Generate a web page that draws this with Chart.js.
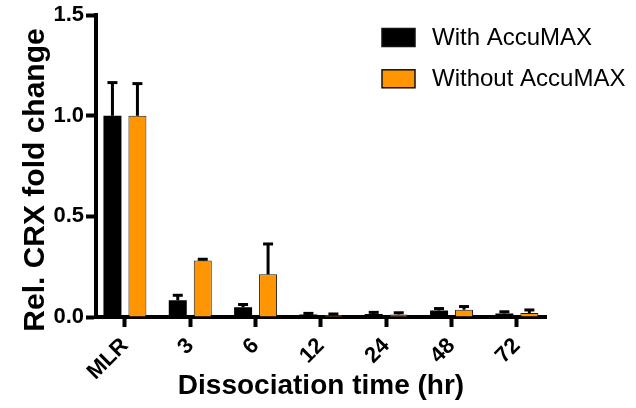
<!DOCTYPE html>
<html>
<head>
<meta charset="utf-8">
<script src="https://cdn.jsdelivr.net/npm/chart.js@4/dist/chart.umd.min.js"></script>
<style>
  html, body { margin: 0; padding: 0; background: #fff; }
  #c { display: block; }
</style>
</head>
<body>
<canvas id="c" width="636" height="408"></canvas>
<script>
// ---- data ----
const categories = ["MLR", "3", "6", "12", "24", "48", "72"];
const seriesNames = ["With AccuMAX", "Without AccuMAX"];
const withAccuMAX = [1.0, 0.083, 0.048, 0.012, 0.015, 0.032, 0.018];
const withAccuMAXErr = [0.165, 0.025, 0.014, 0.006, 0.008, 0.010, 0.008];
const withoutAccuMAX = [1.0, 0.281, 0.212, 0.010, 0.013, 0.036, 0.020];
const withoutAccuMAXErr = [0.160, 0.006, 0.151, 0.005, 0.008, 0.016, 0.015];
const yTicks = [0, 0.5, 1.0, 1.5];
const xTitle = "Dissociation time (hr)";
const yTitle = "Rel. CRX fold change";

const FONT = '"Liberation Sans", Arial, Helvetica, sans-serif';
const BLACK = '#000000';
const ORANGE = '#FF9500';

const errors = [withAccuMAXErr, withoutAccuMAXErr];

const errorBarPlugin = {
  id: 'errorBars',
  afterDatasetsDraw(chart) {
    const ctx = chart.ctx;
    const yScale = chart.scales.y;
    chart.data.datasets.forEach((ds, di) => {
      const meta = chart.getDatasetMeta(di);
      meta.data.forEach((el, i) => {
        const v = ds.data[i].y;
        const e = errors[di][i];
        const yTop = yScale.getPixelForValue(v + e);
        const yBar = el.y;
        ctx.save();
        ctx.strokeStyle = '#000';
        ctx.lineWidth = 3;
        ctx.lineCap = 'butt';
        ctx.beginPath();
        ctx.moveTo(el.x, yBar);
        ctx.lineTo(el.x, yTop);
        ctx.stroke();
        ctx.beginPath();
        ctx.moveTo(el.x - 5, yTop);
        ctx.lineTo(el.x + 5, yTop);
        ctx.stroke();
        ctx.restore();
      });
    });
  }
};

const customTextPlugin = {
  id: 'customText',
  afterDraw(chart) {
    const ctx = chart.ctx;
    ctx.save();
    // y-axis title
    ctx.fillStyle = '#000';
    ctx.font = 'bold 30px ' + FONT;
    ctx.textAlign = 'center';
    ctx.textBaseline = 'alphabetic';
    ctx.translate(44, 180);
    ctx.rotate(-Math.PI / 2);
    ctx.fillText(yTitle, 0, 0);
    ctx.restore();

    // legend
    ctx.save();
    const rows = [37.5, 78.8];
    chart.data.datasets.forEach((ds, i) => {
      const cy = rows[i];
      ctx.fillStyle = ds.backgroundColor;
      ctx.fillRect(382, cy - 9, 33, 18);
      ctx.strokeStyle = '#111';
      ctx.lineWidth = 1.5;
      ctx.strokeRect(382, cy - 9, 33, 18);
      ctx.fillStyle = '#000';
      ctx.font = '24px ' + FONT;
      ctx.textAlign = 'left';
      ctx.textBaseline = 'middle';
      ctx.fillText(ds.label, 432, cy + 1);
    });
    ctx.restore();
  }
};

const chart = new Chart(document.getElementById('c'), {
  type: 'bar',
  data: {
    datasets: [
      {
        label: seriesNames[0],
        data: categories.map((c, i) => ({ x: i, y: withAccuMAX[i] })),
        backgroundColor: BLACK,
        borderColor: BLACK,
        borderWidth: 0,
        categoryPercentage: 0.765,
        barPercentage: 0.72
      },
      {
        label: seriesNames[1],
        data: categories.map((c, i) => ({ x: i, y: withoutAccuMAX[i] })),
        backgroundColor: ORANGE,
        borderColor: '#1a1a1a',
        borderWidth: 1,
        categoryPercentage: 0.765,
        barPercentage: 0.72
      }
    ]
  },
  options: {
    responsive: false,
    devicePixelRatio: 1,
    animation: false,
    layout: { padding: { left: 0, right: 90, top: 15, bottom: 0 } },
    plugins: {
      legend: { display: false },
      tooltip: { enabled: false }
    },
    scales: {
      x: {
        type: 'linear',
        min: -0.443,
        max: 6.446,
        offset: false,
        grid: {
          display: true,
          offset: false,
          drawOnChartArea: false,
          drawTicks: true,
          tickLength: 10,
          tickWidth: 4,
          tickColor: '#000'
        },
        border: { display: true, width: 4, color: '#000' },
        afterBuildTicks: (axis) => {
          axis.ticks = categories.map((c, i) => ({ value: i }));
        },
        ticks: {
          autoSkip: false,
          maxRotation: 45,
          minRotation: 45,
          padding: 6,
          color: '#000',
          font: { family: FONT, size: 22, weight: 'bold' },
          callback: (v) => categories[v]
        },
        title: {
          display: true,
          text: xTitle,
          color: '#000',
          font: { family: FONT, size: 28, weight: 'bold' },
          padding: { top: 0, bottom: 5 }
        },
        afterFit: (s) => { s.height = 91; }
      },
      y: {
        min: 0,
        max: 1.5,
        afterBuildTicks: (axis) => {
          axis.ticks = yTicks.map(v => ({ value: v }));
        },
        grid: {
          display: true,
          drawOnChartArea: false,
          drawTicks: true,
          tickLength: 10,
          tickWidth: 4,
          tickColor: '#000'
        },
        border: { display: true, width: 4, color: '#000' },
        ticks: {
          padding: 2,
          color: '#000',
          font: { family: FONT, size: 22, weight: 'bold' },
          callback: (v) => Number(v).toFixed(1)
        },
        afterFit: (s) => { s.width = 96; }
      }
    }
  },
  plugins: [errorBarPlugin, customTextPlugin]
});
</script>
</body>
</html>
